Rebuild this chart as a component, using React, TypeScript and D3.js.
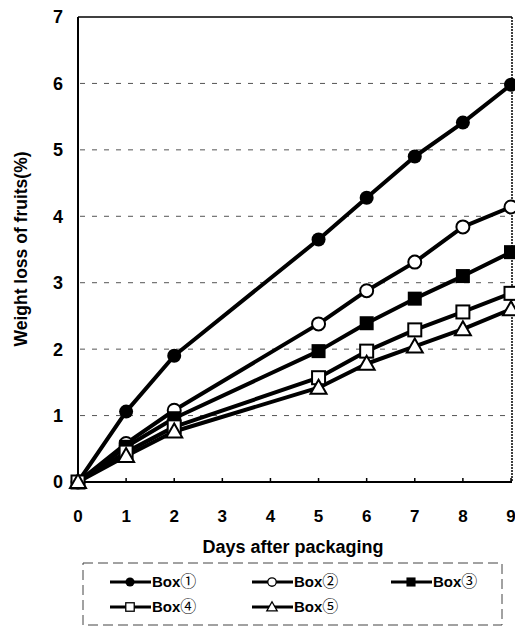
import React from "react";
import * as d3 from "d3";

const days = [0, 1, 2, 5, 6, 7, 8, 9];
const box1 = [0, 1.06, 1.9, 3.65, 4.28, 4.9, 5.41, 5.98];
const box2 = [0, 0.58, 1.08, 2.38, 2.88, 3.31, 3.84, 4.14];
const box3 = [0, 0.53, 0.96, 1.97, 2.39, 2.76, 3.1, 3.46];
const box4 = [0, 0.45, 0.83, 1.57, 1.97, 2.29, 2.56, 2.84];
const box5 = [0, 0.39, 0.76, 1.42, 1.78, 2.04, 2.3, 2.6];
const seriesNames = ["Box", "Box", "Box", "Box", "Box"];
const seriesNums = ["①", "②", "③", "④", "⑤"];
const seriesMarkers = ["filledCircle", "openCircle", "filledSquare", "openSquare", "openTriangle"];
const xTicks = [0, 1, 2, 3, 4, 5, 6, 7, 8, 9];
const yTicks = [0, 1, 2, 3, 4, 5, 6, 7];

const W = 515, H = 629;
const left = 78, right = 511, top = 17, bottom = 482;
const x = d3.scaleLinear().domain([0, 9]).range([left, right]);
const y = d3.scaleLinear().domain([0, 7]).range([bottom, top]);

const FONT = "'Liberation Sans', Arial, sans-serif";

function Marker({ kind, cx, cy }: { kind: string; cx: number; cy: number }) {
  const sw = 2;
  if (kind === "filledCircle") return <circle cx={cx} cy={cy} r={7} fill="#000" />;
  if (kind === "openCircle") return <circle cx={cx} cy={cy} r={6.5} fill="#fff" stroke="#000" strokeWidth={sw} />;
  if (kind === "filledSquare") return <rect x={cx - 7} y={cy - 7} width={14} height={14} fill="#000" />;
  if (kind === "openSquare") return <rect x={cx - 6.5} y={cy - 6.5} width={13} height={13} fill="#fff" stroke="#000" strokeWidth={sw} />;
  const s = 8;
  const pts = `${cx},${cy - s} ${cx + s},${cy + s * 0.75} ${cx - s},${cy + s * 0.75}`;
  return <polygon points={pts} fill="#fff" stroke="#000" strokeWidth={sw} strokeLinejoin="miter" />;
}

export default function App() {
  const all = [box1, box2, box3, box4, box5];
  const line = d3.line<number>().x((_, i) => x(days[i])).y((d) => y(d));
  const legendItems = [
    { i: 0, lx: 110, ly: 582 },
    { i: 1, lx: 252, ly: 582 },
    { i: 2, lx: 391, ly: 582 },
    { i: 3, lx: 110, ly: 607 },
    { i: 4, lx: 252, ly: 607 },
  ];
  return (
    <svg width={W} height={H} style={{ position: "absolute", left: 0, top: 0, background: "#fff" }}>
      <rect width={W} height={H} fill="#fff" />
      {/* gridlines */}
      {yTicks.filter((t) => t > 0 && t < 7).map((t) => (
        <line key={t} x1={left + 2} x2={right - 6} y1={y(t)} y2={y(t)} stroke="#555" strokeWidth={1} strokeDasharray="5,7" />
      ))}
      {/* frame */}
      <line x1={left} x2={right + 1} y1={top} y2={top} stroke="#000" strokeWidth={1.5} />
      <line x1={right + 1} x2={right + 1} y1={top} y2={bottom} stroke="#000" strokeWidth={1.5} strokeDasharray="2,1" />
      <line x1={left} x2={left} y1={top} y2={bottom} stroke="#000" strokeWidth={2} />
      <line x1={left} x2={right + 1} y1={bottom} y2={bottom} stroke="#000" strokeWidth={2} />
      {xTicks.map((t) => (
        <line key={t} x1={x(t)} x2={x(t)} y1={bottom} y2={bottom - 4} stroke="#000" strokeWidth={1.5} />
      ))}
      {/* tick labels */}
      {yTicks.map((t) => (
        <text key={t} x={63} y={y(t)} dy="0.36em" textAnchor="end" fontFamily={FONT} fontWeight="bold" fontSize={18}>
          {t}
        </text>
      ))}
      {xTicks.map((t) => (
        <text key={t} x={x(t)} y={516} dy="0.36em" textAnchor="middle" fontFamily={FONT} fontWeight="bold" fontSize={17}>
          {t}
        </text>
      ))}
      <text x={293} y={547} dy="0.36em" textAnchor="middle" fontFamily={FONT} fontWeight="bold" fontSize={18}>
        Days after packaging
      </text>
      <text transform="translate(21,249) rotate(-90)" dy="0.36em" textAnchor="middle" fontFamily={FONT} fontWeight="bold" fontSize={17.5}>
        Weight loss of fruits(%)
      </text>
      {/* series */}
      {all.map((s, k) => (
        <path key={k} d={line(s) || ""} fill="none" stroke="#000" strokeWidth={4} strokeLinejoin="round" />
      ))}
      {all.map((s, k) => (
        <g key={k}>
          {s.map((v, i) => (
            <Marker key={i} kind={seriesMarkers[k]} cx={x(days[i])} cy={y(v)} />
          ))}
        </g>
      ))}
      {/* legend */}
      <rect x={83} y={563} width={419} height={62} fill="none" stroke="#444" strokeWidth={1} strokeDasharray="10,5" />
      {legendItems.map(({ i, lx, ly }) => (
        <g key={i}>
          <line x1={lx} x2={lx + 41} y1={ly} y2={ly} stroke="#000" strokeWidth={3} />
          <g transform={`translate(${lx + 20},${ly}) scale(0.65) translate(${-(lx + 20)},${-ly})`}>
            <Marker kind={seriesMarkers[i]} cx={lx + 20} cy={ly} />
          </g>
          <text x={lx + 42} y={ly} dy="0.36em" fontFamily={FONT} fontWeight="bold" fontSize={15}>
            {seriesNames[i]}
            <tspan fontFamily="'Noto Sans CJK JP', sans-serif" fontWeight="normal" fontSize={16}>
              {seriesNums[i]}
            </tspan>
          </text>
        </g>
      ))}
    </svg>
  );
}
